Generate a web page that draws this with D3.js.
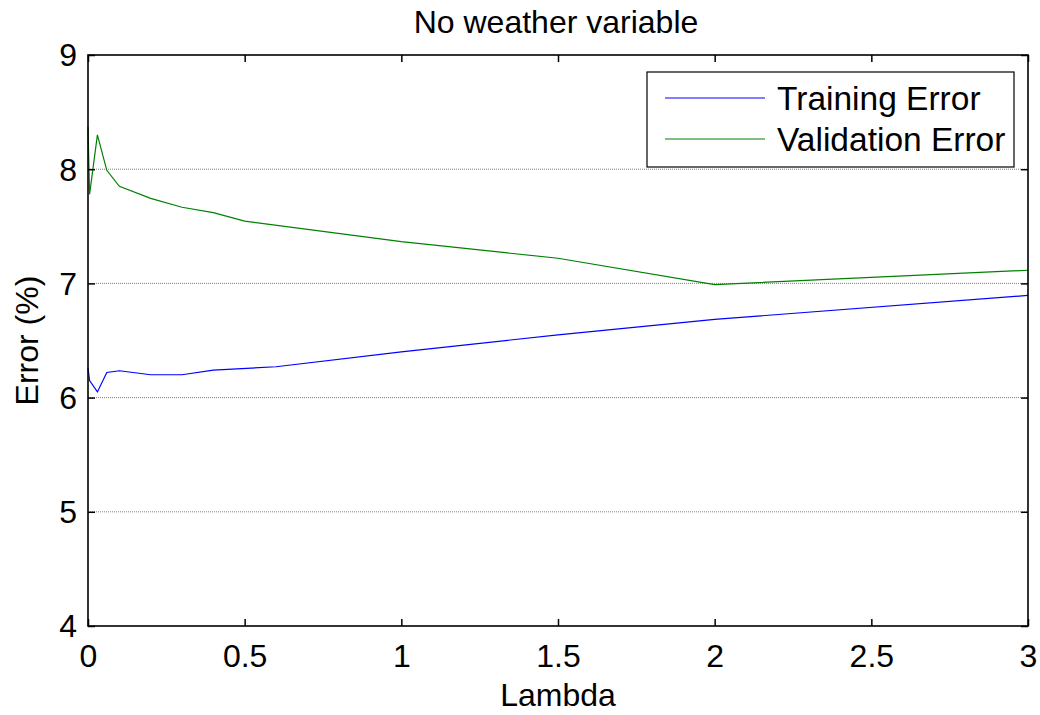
<!DOCTYPE html>
<html><head><meta charset="utf-8">
<script src="https://cdn.jsdelivr.net/npm/d3@7"></script>
<style>body{margin:0;background:#fff}svg{display:block}text{font-family:"Liberation Sans",Arial,sans-serif;fill:#000}</style>
</head><body>
<script>
const lambdaTrain = [0, 0.005, 0.03, 0.06, 0.1, 0.2, 0.3, 0.4, 0.6, 1, 1.5, 2, 3];
const trainErr   = [6.26, 6.15, 6.05, 6.22, 6.235, 6.20, 6.20, 6.24, 6.27, 6.40, 6.55, 6.685, 6.895];
const lambdaVal  = [0, 0.005, 0.03, 0.06, 0.1, 0.2, 0.3, 0.4, 0.5, 1, 1.5, 2, 3];
const valErr     = [8.37, 7.78, 8.30, 7.99, 7.85, 7.745, 7.667, 7.62, 7.546, 7.365, 7.22, 6.99, 7.115];
const xTicks = [0, 0.5, 1, 1.5, 2, 2.5, 3];
const yTicks = [4, 5, 6, 7, 8, 9];
const seriesNames = ["Training Error", "Validation Error"];
const seriesColors = ["#0000ff", "#008000"];

const W = 1040, H = 715;
const L = 88, R = 1028, T = 55, B = 626;
const svg = d3.select("body").append("svg").attr("width", W).attr("height", H);
const x = d3.scaleLinear().domain([0, 3]).range([L, R]);
const y = d3.scaleLinear().domain([4, 9]).range([B, T]);
const FS = 32;

// grid
svg.append("g").selectAll("line").data(yTicks.filter(d => d > 4 && d < 9)).join("line")
  .attr("x1", L).attr("x2", R).attr("y1", d => y(d)).attr("y2", d => y(d))
  .attr("stroke", "#808080").attr("stroke-width", 1).attr("stroke-dasharray", "1,1");

// lines
const line = d3.line().x(d => x(d[0])).y(d => y(d[1]));
svg.append("path").datum(lambdaTrain.map((l, i) => [l, trainErr[i]]))
  .attr("d", line).attr("fill", "none").attr("stroke", seriesColors[0]).attr("stroke-width", 1.2);
svg.append("path").datum(lambdaVal.map((l, i) => [l, valErr[i]]))
  .attr("d", line).attr("fill", "none").attr("stroke", seriesColors[1]).attr("stroke-width", 1.2);

// axes (ticks inward, on all sides)
const tl = 7;
svg.append("g").attr("transform", `translate(0,${B})`)
  .call(d3.axisBottom(x).tickValues(xTicks).tickSize(-tl).tickPadding(tl + 11).tickFormat(d3.format("")))
  .call(g => { g.select(".domain").remove(); g.selectAll("text").attr("font-size", FS).attr("font-family", "Liberation Sans, Arial"); });
svg.append("g").attr("transform", `translate(0,${T})`)
  .call(d3.axisTop(x).tickValues(xTicks).tickSize(-tl).tickFormat(""))
  .call(g => g.select(".domain").remove());
svg.append("g").attr("transform", `translate(${L},0)`)
  .call(d3.axisLeft(y).tickValues(yTicks).tickSize(-tl).tickPadding(tl + 4).tickFormat(d3.format("d")))
  .call(g => { g.select(".domain").remove(); g.selectAll("text").attr("font-size", FS).attr("font-family", "Liberation Sans, Arial").attr("dy", "0.34em"); });
svg.append("g").attr("transform", `translate(${R},0)`)
  .call(d3.axisRight(y).tickValues(yTicks).tickSize(-tl).tickFormat(""))
  .call(g => g.select(".domain").remove());
svg.selectAll(".tick line").attr("stroke", "#000").attr("stroke-width", 1.5);

// box
svg.append("rect").attr("x", L).attr("y", T).attr("width", R - L).attr("height", B - T)
  .attr("fill", "none").attr("stroke", "#000").attr("stroke-width", 1.6);

// title & labels
svg.append("text").attr("x", (L + R) / 2 - 2).attr("y", 33).attr("text-anchor", "middle")
  .attr("font-size", FS).text("No weather variable");
svg.append("text").attr("x", (L + R) / 2).attr("y", 706).attr("text-anchor", "middle")
  .attr("font-size", FS).text("Lambda");
svg.append("text").attr("transform", `translate(38,${(T + B) / 2}) rotate(-90)`).attr("text-anchor", "middle")
  .attr("font-size", FS).text("Error (%)");

// legend
const lg = svg.append("g");
lg.append("rect").attr("x", 647).attr("y", 72).attr("width", 367).attr("height", 95)
  .attr("fill", "#fff").attr("stroke", "#000").attr("stroke-width", 1.2);
seriesNames.forEach((n, i) => {
  const yy = 98 + i * 41;
  lg.append("line").attr("x1", 665).attr("x2", 765).attr("y1", yy).attr("y2", yy)
    .attr("stroke", seriesColors[i]).attr("stroke-width", 1.2);
  lg.append("text").attr("x", 777).attr("y", yy + 12).attr("font-size", 33.5).text(n);
});
</script>
</body></html>
